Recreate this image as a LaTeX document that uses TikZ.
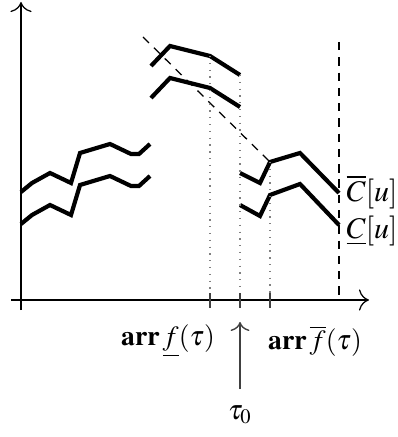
\documentclass[tikz,border=0pt]{standalone}
\usepackage{mathptmx}
\usetikzlibrary{arrows.meta}
\begin{document}
\begin{tikzpicture}[x=0.36pt,y=-0.36pt,
  curve/.style={line width=1.5pt,line join=miter},
  axis/.style={line width=0.45pt,-{To[scale=1.4]}},
  dotline/.style={gray,line width=0.45pt,dotted},
  dashline/.style={line width=0.45pt,dash pattern=on 3pt off 2.5pt},
  tick/.style={darkgray,line width=0.45pt},
  lbl/.style={inner sep=0pt}]
\useasboundingbox (0,0) rectangle (397,437);
% axes
\coordinate (o1) at (11,300);
\coordinate (xend) at (369,300);
\coordinate (ybot) at (21,310);
\coordinate (yend) at (21,2);
\draw[axis] (o1) -- (xend);
\draw[axis] (ybot) -- (yend);
% left curves
\draw[curve] (21,192) -- (32,183) -- (50,173) -- (71,183) -- (80,153) -- (110,144) -- (131,154) -- (139,154) -- (150,144);
\draw[curve] (21,224) -- (32,215) -- (50,205) -- (71,215) -- (80,185) -- (110,176) -- (131,186) -- (139,186) -- (150,176);
% middle curves
\draw[curve] (151,66) -- (170,46) -- (210,56) -- (240,75);
\draw[curve] (151,98) -- (170,78) -- (210,88) -- (240,107);
% right curves
\draw[curve] (240,173) -- (260,183) -- (270,162) -- (300,153) -- (339,193);
\draw[curve] (240,205) -- (260,216) -- (270,195) -- (300,184) -- (339,225);
% dashed diagonal and vertical
\coordinate (d1) at (143,37);
\coordinate (d2) at (270,162);
\draw[dashline] (d1) -- (d2);
\coordinate (v1) at (339,42);
\coordinate (v2) at (339,300);
\draw[dashline] (v1) -- (v2);
% dotted verticals
\coordinate (p1) at (210,56);
\coordinate (p2) at (240,75);
\coordinate (p3) at (270,162);
\coordinate (t1) at (210,293);
\coordinate (t2) at (240,293);
\coordinate (t3) at (270,293);
\draw[dotline] (p1) -- (t1);
\draw[dotline] (p2) -- (t2);
\draw[dotline] (p3) -- (t3);
% ticks
\coordinate (b1) at (210,308);
\coordinate (b2) at (240,308);
\coordinate (b3) at (270,308);
\draw[tick] (t1) -- (b1);
\draw[tick] (t2) -- (b2);
\draw[tick] (t3) -- (b3);
% labels
\node[lbl,anchor=west,scale=1.08] (cbar) at (346,192) {$\overline{C}[u]$};
\node[lbl,anchor=west,scale=1.08] (cund) at (346,231) {$\underline{C}[u]$};
\node[lbl] (arrlow) at (168,341) {$\mathbf{arr}\,\underline{f}(\tau)$};
\node[lbl] (arrup) at (315,341) {$\mathbf{arr}\,\overline{f}(\tau)$};
\node[lbl] (tau0) at (240,415) {$\tau_0$};
\coordinate (abot) at (240,389);
\coordinate (atop) at (240,322);
\draw[darkgray,line width=0.5pt,-{To[scale=1.2]}] (abot) -- (atop);
\end{tikzpicture}
\end{document}
